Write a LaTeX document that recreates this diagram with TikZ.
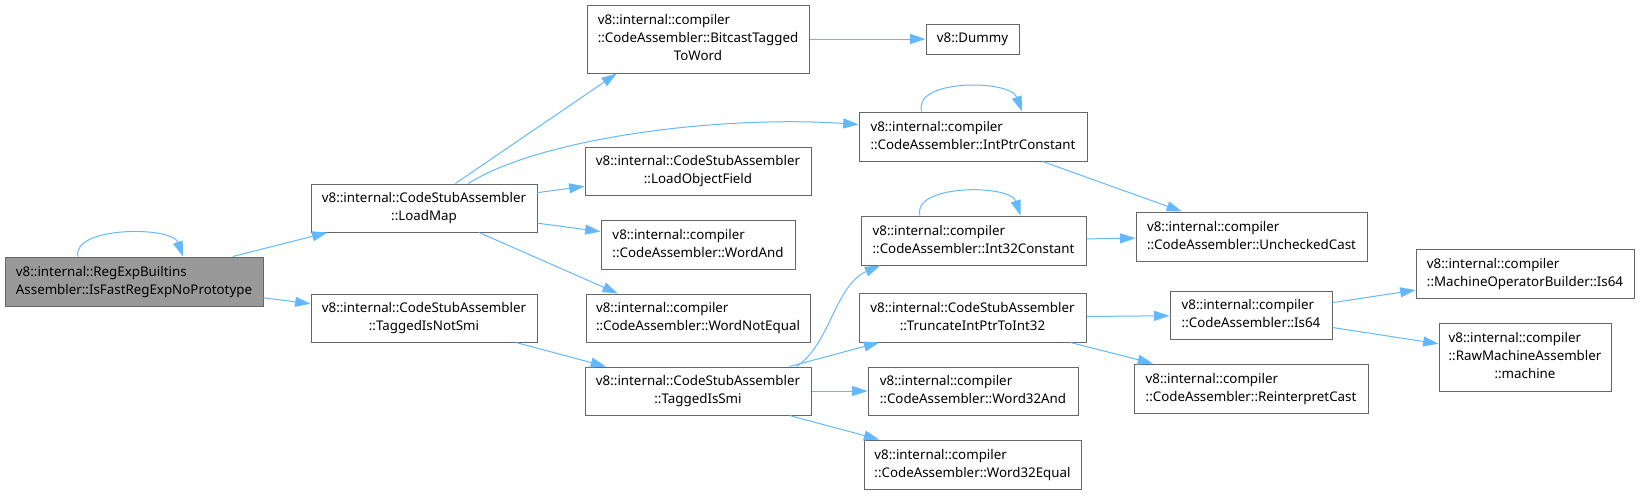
\documentclass[tikz,border=0pt]{standalone}
\usepackage{fontspec}
\setmainfont{Noto Sans}
\usetikzlibrary{arrows.meta}
\definecolor{cgedge}{HTML}{63B8FF}
\definecolor{cgborder}{HTML}{666666}
\definecolor{cgroot}{HTML}{999999}
\newcommand{\fnlabel}[2]{\begin{tabular}{@{}l@{}}#1\\\multicolumn{1}{@{}c@{}}{#2}\end{tabular}}

\begin{document}
\begin{tikzpicture}[x=0.75pt,y=-0.75pt,
      fn/.style 2 args={draw=cgborder,fill=white,line width=0.75pt,inner sep=0pt,
        minimum width={#1*0.75pt},minimum height={#2*0.75pt},font=\fontsize{10}{13.6}\selectfont},
      call/.style={-{Triangle[length=11.5pt,width=7.5pt]},line width=0.75pt,draw=cgedge}]
    \useasboundingbox (0,0) rectangle (1640,494);
    % callers on the left
    \node[fn={258}{49},fill=cgroot] (root) at (134,281.5)
      {\fnlabel{v8::internal::RegExpBuiltins}{Assembler::IsFastRegExpNoPrototype}};
    \node[fn={226}{48}] (loadmap) at (424,208)
      {\fnlabel{v8::internal::CodeStubAssembler}{::LoadMap}};
    \node[fn={226}{48}] (tnotsmi) at (424,318)
      {\fnlabel{v8::internal::CodeStubAssembler}{::TaggedIsNotSmi}};
    % middle column
    \node[fn={222}{68}] (bitcast) at (698,39)
      {\fnlabel{v8::internal::compiler\\::CodeAssembler::BitcastTagged}{ToWord}};
    \node[fn={93}{30}] (dummy) at (972.5,39) {v8::Dummy};
    \node[fn={226}{48}] (lof) at (698,171)
      {\fnlabel{v8::internal::CodeStubAssembler}{::LoadObjectField}};
    \node[fn={194}{49}] (wordand) at (698,244.5)
      {\fnlabel{v8::internal::compiler}{::CodeAssembler::WordAnd}};
    \node[fn={224}{48}] (wne) at (698,318)
      {\fnlabel{v8::internal::compiler}{::CodeAssembler::WordNotEqual}};
    \node[fn={226}{48}] (tsmi) at (698,391)
      {\fnlabel{v8::internal::CodeStubAssembler}{::TaggedIsSmi}};
    % next column
    \node[fn={228}{49}] (intptr) at (973,136.5)
      {\fnlabel{v8::internal::compiler}{::CodeAssembler::IntPtrConstant}};
    \node[fn={225}{49}] (int32) at (973.5,240.5)
      {\fnlabel{v8::internal::compiler}{::CodeAssembler::Int32Constant}};
    \node[fn={227}{49}] (trunc) at (972.5,317.5)
      {\fnlabel{v8::internal::CodeStubAssembler}{::TruncateIntPtrToInt32}};
    \node[fn={210}{48}] (w32and) at (973,391)
      {\fnlabel{v8::internal::compiler}{::CodeAssembler::Word32And}};
    \node[fn={217}{49}] (w32eq) at (972.5,464.5)
      {\fnlabel{v8::internal::compiler}{::CodeAssembler::Word32Equal}};
    % right side
    \node[fn={231}{49}] (unchecked) at (1251.5,236.5)
      {\fnlabel{v8::internal::compiler}{::CodeAssembler::UncheckedCast}};
    \node[fn={162}{48}] (is64) at (1251,315)
      {\fnlabel{v8::internal::compiler}{::CodeAssembler::Is64}};
    \node[fn={234}{49}] (reinterp) at (1251,388.5)
      {\fnlabel{v8::internal::compiler}{::CodeAssembler::ReinterpretCast}};
    \node[fn={218}{49}] (mob) at (1525,273.5)
      {\fnlabel{v8::internal::compiler}{::MachineOperatorBuilder::Is64}};
    \node[fn={172}{68}] (machine) at (1525,357)
      {\fnlabel{v8::internal::compiler\\::RawMachineAssembler}{::machine}};
    % calls
    \draw[call] (root.156) .. controls (72,226) and (172,226) .. (root.27);
    \draw[call] (root) -- (loadmap);
    \draw[call] (root) -- (tnotsmi);
    \draw[call] (loadmap.38) -- (bitcast.203);
    \draw[call] (loadmap.29) .. controls (540,138) and (720,115) .. (intptr.174);
    \draw[call] (loadmap) -- (lof);
    \draw[call] (loadmap) -- (wordand);
    \draw[call] (loadmap.-24) -- (wne.163.5);
    \draw[call] (tnotsmi) -- (tsmi);
    \draw[call] (bitcast) -- (dummy);
    \draw[call] (intptr.154) .. controls (912,79) and (1010,79) .. (intptr.27.5);
    \draw[call] (intptr) -- (unchecked);
    \draw[call] (int32.155) .. controls (912,184) and (1010,184) .. (int32.28);
    \draw[call] (int32) -- (unchecked);
    \draw[call] (tsmi.14) .. controls (830,345) and (835,285) .. (int32.195.5);
    \draw[call] (tsmi) -- (trunc);
    \draw[call] (tsmi) -- (w32and);
    \draw[call] (tsmi) -- (w32eq);
    \draw[call] (trunc) -- (is64);
    \draw[call] (trunc) -- (reinterp);
    \draw[call] (is64) -- (mob);
    \draw[call] (is64) -- (machine);
  \end{tikzpicture}
\end{document}
